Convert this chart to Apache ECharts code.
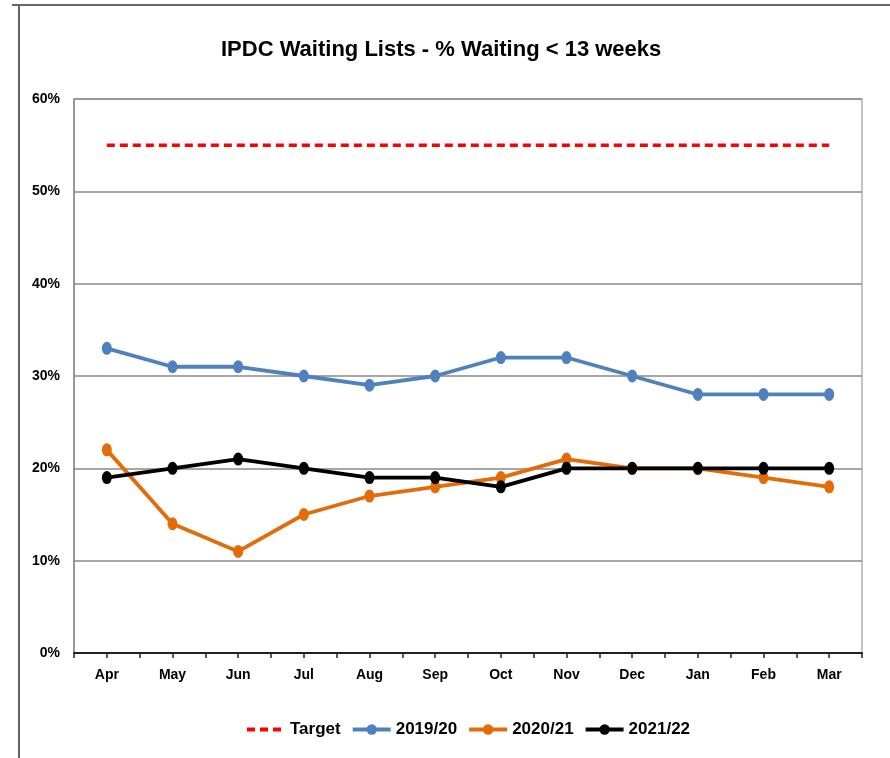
<!DOCTYPE html>
<html>
<head>
<meta charset="utf-8">
<title>IPDC Waiting Lists</title>
<script src="https://cdn.jsdelivr.net/npm/echarts@6/dist/echarts.min.js"></script>
<style>
    html, body { margin: 0; padding: 0; background: #fff; }
    #chart { width: 890px; height: 758px; }
</style>
</head>
<body>
<div id="chart"></div>
<script>
// months of the financial year
var months = ['Apr', 'May', 'Jun', 'Jul', 'Aug', 'Sep', 'Oct', 'Nov', 'Dec', 'Jan', 'Feb', 'Mar'];
// % waiting < 13 weeks
var target = [55, 55, 55, 55, 55, 55, 55, 55, 55, 55, 55, 55];
var y1920 = [33, 31, 31, 30, 29, 30, 32, 32, 30, 28, 28, 28];
var y2021 = [22, 14, 11, 15, 17, 18, 19, 21, 20, 20, 19, 18];
var y2122 = [19, 20, 21, 20, 19, 19, 18, 20, 20, 20, 20, 20];
// half-category ticks along the bottom axis
var tickSlots = ['', '', '', '', '', '', '', '', '', '', '', '', '', '', '', '', '', '', '', '', '', '', '', ''];

var FONT = "'Liberation Sans', Arial, sans-serif";

var chart = echarts.init(document.getElementById('chart'));

function lineSeries(name, data, color) {
    return {
        name: name,
        type: 'line',
        data: data,
        symbol: 'circle',
        symbolSize: [10, 13],
        lineStyle: {color: color, width: 3.8},
        itemStyle: {color: color},
        z: 3
    };
}

var option = {
    animation: false,
    backgroundColor: '#fff',
    title: {
        text: 'IPDC Waiting Lists - % Waiting < 13 weeks',
        left: 216,
        top: 34,
        textStyle: {fontFamily: FONT, fontSize: 22, fontWeight: 'bold', color: '#000'}
    },
    graphic: [
        {type: 'line', shape: {x1: 12, y1: 5, x2: 890, y2: 5}, style: {stroke: '#666', lineWidth: 2}},
        {type: 'line', shape: {x1: 19, y1: 5, x2: 19, y2: 758}, style: {stroke: '#666', lineWidth: 2}}
    ],
    legend: {
        top: 716,
        left: 240,
        itemWidth: 38,
        itemHeight: 13,
        itemGap: 10,
        lineStyle: {width: 4},
        textStyle: {fontFamily: FONT, fontSize: 17, fontWeight: 'bold', color: '#000'},
        data: [
            {name: 'Target', itemStyle: {opacity: 0}},
            '2019/20', '2020/21', '2021/22'
        ]
    },
    grid: {left: 74, right: 28, top: 99, bottom: 105, show: true, borderColor: '#888', borderWidth: 1},
    xAxis: [
        {
            type: 'category',
            data: months,
            boundaryGap: true,
            axisLine: {lineStyle: {color: '#222', width: 2}},
            axisTick: {show: false},
            axisLabel: {fontFamily: FONT, fontSize: 14, fontWeight: 'bold', color: '#000', margin: 15}
        },
        {
            type: 'category',
            data: tickSlots,
            position: 'bottom',
            boundaryGap: true,
            axisLine: {show: false},
            axisTick: {show: true, length: 5, interval: 0, lineStyle: {color: '#222', width: 1.5}},
            axisLabel: {show: false}
        }
    ],
    yAxis: {
        type: 'value',
        min: 0,
        max: 60,
        interval: 10,
        axisLine: {show: true, lineStyle: {color: '#888', width: 1.5}},
        axisTick: {show: false},
        splitLine: {lineStyle: {color: '#888', width: 1.5}},
        axisLabel: {
            formatter: '{value}%',
            fontFamily: FONT, fontSize: 14, fontWeight: 'bold', color: '#000', margin: 14
        }
    },
    series: [
        {
            name: 'Target',
            type: 'line',
            data: target,
            symbol: 'none',
            lineStyle: {color: '#ff0000', width: 3.5, type: [8, 5]},
            itemStyle: {color: '#ff0000'},
            z: 2
        },
        lineSeries('2019/20', y1920, '#4f81bd'),
        lineSeries('2020/21', y2021, '#e36c0a'),
        lineSeries('2021/22', y2122, '#000000')
    ]
};

chart.setOption(option);
</script>
</body>
</html>
